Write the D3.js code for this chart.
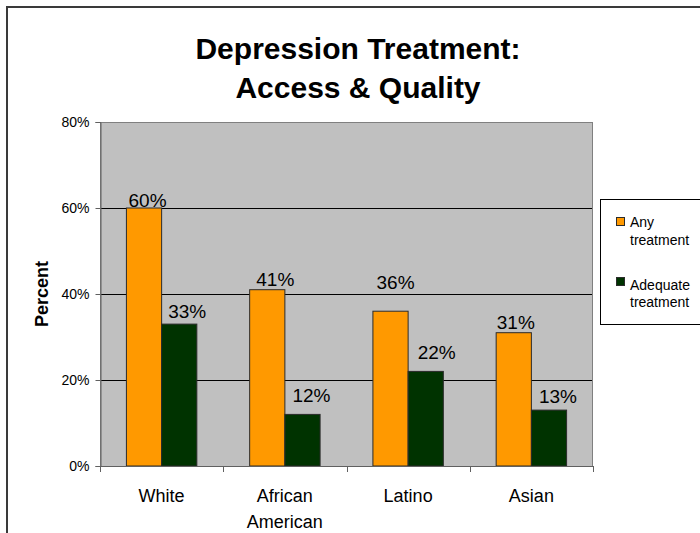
<!DOCTYPE html>
<html>
<head>
<meta charset="utf-8">
<script src="https://cdn.jsdelivr.net/npm/d3@7"></script>
<style>
html,body{margin:0;padding:0;background:#fff;}
svg{display:block;font-family:"Liberation Sans",Arial,sans-serif;}
</style>
</head>
<body>
<svg id="chart" width="700" height="533"></svg>
<script>
// ---- data ----
const categories = [["White"], ["African", "American"], ["Latino"], ["Asian"]];
const seriesNames = ["Any treatment", "Adequate treatment"];
const anyTreatment = [60, 41, 36, 31];
const adequateTreatment = [33, 12, 22, 13];
const yTicks = [0, 20, 40, 60, 80];
const titleLines = ["Depression Treatment:", "Access & Quality"];
const yAxisTitle = "Percent";
const legendLines = [["Any", "treatment"], ["Adequate", "treatment"]];

// label placement nudges (style, px)
const anyLabelLift = [1, 4, 22, 4];
const anyLabelShift = [3.5, 8, 5, 2];
const adqLabelLift = [6, 12, 12, 7];
const adqLabelShift = [8, 9, 11, 9];

const colors = ["#FF9900", "#003300"];

const svg = d3.select("#chart");
const plot = {x0: 100, x1: 593, y0: 122, y1: 466};

// outer frame (left & top edges visible)
svg.append("path")
  .attr("d", `M7,540 L7,7 L710,7`)
  .attr("fill", "none").attr("stroke", "#3a3a3a").attr("stroke-width", 2);

// title
svg.append("text")
  .attr("x", 358).attr("y", 59)
  .attr("text-anchor", "middle").attr("font-weight", "bold").attr("font-size", 30)
  .text(titleLines[0]);
svg.append("text")
  .attr("x", 358).attr("y", 98)
  .attr("text-anchor", "middle").attr("font-weight", "bold").attr("font-size", 30)
  .text(titleLines[1]);

const x = d3.scaleBand().domain(d3.range(categories.length)).range([plot.x0, plot.x1]).paddingInner(0).paddingOuter(0);
const xs = d3.scaleBand().domain(d3.range(seriesNames.length)).range([0, x.bandwidth()]).paddingInner(0).paddingOuter(0.75);
const y = d3.scaleLinear().domain([0, 80]).range([plot.y1, plot.y0]);

// plot background
svg.append("rect")
  .attr("x", plot.x0).attr("y", plot.y0)
  .attr("width", plot.x1 - plot.x0).attr("height", plot.y1 - plot.y0)
  .attr("fill", "#C0C0C0");

// gridlines
svg.append("g").selectAll("line").data(yTicks.filter(d => d > 0 && d < 80)).join("line")
  .attr("x1", plot.x0).attr("x2", plot.x1)
  .attr("y1", d => Math.round(y(d)) + 0.5).attr("y2", d => Math.round(y(d)) + 0.5)
  .attr("stroke", "#000").attr("stroke-width", 1);

// plot border
svg.append("rect")
  .attr("x", plot.x0 + 0.5).attr("y", plot.y0 + 0.5)
  .attr("width", plot.x1 - plot.x0 - 1).attr("height", plot.y1 - plot.y0)
  .attr("fill", "none").attr("stroke", "#808080").attr("stroke-width", 1);

// bars
const seriesData = [anyTreatment, adequateTreatment];
seriesData.forEach((vals, s) => {
  svg.append("g").selectAll("rect").data(vals).join("rect")
    .attr("x", (d, i) => x(i) + xs(s))
    .attr("y", d => y(d))
    .attr("width", xs.bandwidth())
    .attr("height", d => y(0) - y(d))
    .attr("fill", colors[s])
    .attr("stroke", "#2b2b2b").attr("stroke-width", 1);
});

// data labels
const lifts = [anyLabelLift, adqLabelLift];
const shifts = [anyLabelShift, adqLabelShift];
seriesData.forEach((vals, s) => {
  svg.append("g").selectAll("text").data(vals).join("text")
    .attr("x", (d, i) => x(i) + xs(s) + xs.bandwidth() / 2 + shifts[s][i])
    .attr("y", (d, i) => y(d) - lifts[s][i])
    .attr("text-anchor", "middle").attr("font-size", 19).attr("fill", "#000")
    .text(d => d + "%");
});

// y axis
const yAxis = d3.axisLeft(y).tickValues(yTicks).tickFormat(d => d + "%").tickSize(5).tickPadding(6);
const gy = svg.append("g").attr("transform", `translate(${plot.x0 + 0.5},0)`).call(yAxis);
gy.select(".domain").attr("stroke", "#606060");
gy.selectAll(".tick line").attr("stroke", "#606060");
gy.selectAll(".tick text").attr("font-size", 14).attr("font-family", "Liberation Sans, Arial, sans-serif").attr("fill", "#000");

// x axis ticks (category boundaries)
const bounds = d3.range(categories.length + 1).map(i => i < categories.length ? x(i) : plot.x1);
svg.append("line")
  .attr("x1", plot.x0).attr("x2", plot.x1)
  .attr("y1", plot.y1 + 0.5).attr("y2", plot.y1 + 0.5)
  .attr("stroke", "#606060");
svg.append("g").selectAll("line").data(bounds).join("line")
  .attr("x1", d => Math.round(d) + 0.5).attr("x2", d => Math.round(d) + 0.5)
  .attr("y1", plot.y1).attr("y2", plot.y1 + 6)
  .attr("stroke", "#606060");

// category labels
categories.forEach((lines, i) => {
  lines.forEach((ln, j) => {
    svg.append("text")
      .attr("x", x(i) + x.bandwidth() / 2)
      .attr("y", 502 + j * 26)
      .attr("text-anchor", "middle").attr("font-size", 18)
      .text(ln);
  });
});

// y axis title
svg.append("text")
  .attr("transform", `translate(48,${(plot.y0 + plot.y1) / 2}) rotate(-90)`)
  .attr("text-anchor", "middle").attr("font-weight", "bold").attr("font-size", 18)
  .text(yAxisTitle);

// legend
svg.append("rect")
  .attr("x", 600.5).attr("y", 199.5).attr("width", 120).attr("height", 125)
  .attr("fill", "#fff").attr("stroke", "#000").attr("stroke-width", 1);
const legendY = [217, 277];
const legendTextY = [[227, 245], [290, 307]];
seriesNames.forEach((name, s) => {
  svg.append("rect")
    .attr("x", 616.5).attr("y", legendY[s] + 0.5).attr("width", 8).attr("height", 8)
    .attr("fill", colors[s]).attr("stroke", "#2b2b2b");
  legendLines[s].forEach((ln, j) => {
    svg.append("text")
      .attr("x", 630).attr("y", legendTextY[s][j])
      .attr("font-size", 14)
      .text(ln);
  });
});
</script>
</body>
</html>
